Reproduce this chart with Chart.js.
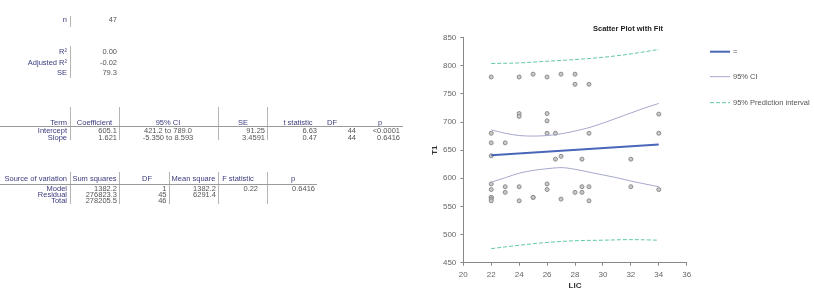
<!DOCTYPE html>
<html>
<head>
<meta charset="utf-8">
<script src="https://cdn.jsdelivr.net/npm/chart.js@4.4.1/dist/chart.umd.min.js"></script>
<style>
  html, body { margin: 0; padding: 0; background: #fff; }
  #wrap { position: relative; width: 814px; height: 292px; overflow: hidden; font-family: "Liberation Sans", Arial, sans-serif; }
  #grafico { position: absolute; left: 0; top: 0; }
  .t { position: absolute; font-size: 7.5px; line-height: 8px; white-space: nowrap; color: #555; }
  .lab { color: #3b3b7d; }
  .bar { position: absolute; width: 1px; background: #b5b5b5; }
  .hl { position: absolute; height: 1px; background: #9a9a9a; }
</style>
</head>
<body>
<div id="wrap">
  <canvas id="grafico" width="814" height="292"></canvas>
</div>
<script>
// Dados - pontos (LIC x T1)
const licPontos = [22, 24, 25, 26, 27, 28, 28, 29, 24, 24, 26, 26, 22, 26, 26.6, 29, 34, 34, 22, 23,
  22, 26.6, 27, 28.5, 32, 22, 22, 22, 22, 22, 22, 23, 23, 24, 24, 25, 25, 26, 26, 27, 28, 28.5, 28.5,
  29, 29, 32, 34];
const t1Pontos = [780, 780, 785, 780, 785, 785, 767, 767, 715, 710, 715, 702, 680, 680, 680, 680, 680, 714, 663, 663,
  640, 634, 639, 634, 634, 590, 580, 566, 566, 563, 560, 585, 575, 585, 560, 566, 566, 590, 580, 563, 575, 585, 575,
  585, 560, 585, 580];

// Reta ajustada
const ajusteX = [22, 34];
const ajusteY = [640.8, 660.2];

// Intervalo de confiança 95%
const icX = [22, 23, 24, 25, 26, 27, 28, 29, 30, 31, 32, 33, 34];
const icSup = [686, 680, 676, 675, 676, 679, 684, 690, 698, 707, 716, 725, 733];
const icInf = [593, 601, 609, 614, 617, 619, 616, 611, 606, 601, 595, 590, 585];

// Intervalo de predição 95%
const ipX = [22, 24, 26, 28, 30, 32, 34];
const ipSup = [804, 805, 808, 811, 815, 821, 829];
const ipInf = [475, 481, 486, 489, 490, 491, 490];

const legendas = ['=', '95% CI', '95% Prediction interval'];

// Tabelas
const resumoRotulos = [['n', 20], ['R²', 52], ['Adjusted R²', 62.5], ['SE', 72.7]];
const resumoValores = ['47', '0.00', '-0.02', '79.3'];

const coefCabecalho = ['Term', 'Coefficient', '95% CI', 'SE', 't statistic', 'DF', 'p'];
const coefLinhas = [
  ['Intercept', '605.1', '421.2 to 789.0', '91.25', '6.63', '44', '<0.0001'],
  ['Slope', '1.621', '-5.350 to 8.593', '3.4591', '0.47', '44', '0.6416']
];
const anovaCabecalho = ['Source of variation', 'Sum squares', 'DF', 'Mean square', 'F statistic', 'p'];
const anovaLinhas = [
  ['Model', '1382.2', '1', '1382.2', '0.22', '0.6416'],
  ['Residual', '276823.3', '45', '6291.4', '', ''],
  ['Total', '278205.5', '46', '', '', '']
];

// Helpers para o texto
const wrap = document.getElementById('wrap');
function texto(str, x, y, alinh, cls) {
  const d = document.createElement('div');
  d.className = 't' + (cls ? ' ' + cls : '');
  d.textContent = str;
  d.style.left = x + 'px';
  d.style.top = y + 'px';
  const tx = alinh === 'right' ? '-100%' : (alinh === 'center' ? '-50%' : '0');
  d.style.transform = 'translate(' + tx + ',-50%)';
  wrap.appendChild(d);
}
function barra(x, y1, y2) {
  const d = document.createElement('div');
  d.className = 'bar';
  d.style.left = x + 'px'; d.style.top = y1 + 'px'; d.style.height = (y2 - y1) + 'px';
  wrap.appendChild(d);
}
function linhaH(x1, x2, y) {
  const d = document.createElement('div');
  d.className = 'hl';
  d.style.left = x1 + 'px'; d.style.top = y + 'px'; d.style.width = (x2 - x1) + 'px';
  wrap.appendChild(d);
}

// Resumo
resumoRotulos.forEach((r, i) => {
  texto(r[0], 67, r[1], 'right', 'lab');
  texto(resumoValores[i], 117, r[1], 'right');
});
barra(70, 16, 27);
barra(70, 46, 78);

// Tabela de coeficientes
const coefCab = [[67, 'right'], [94.5, 'center'], [168, 'center'], [243, 'center'], [298, 'center'], [332, 'center'], [380, 'center']];
const coefVal = [[67, 'right'], [117, 'right'], [168, 'center'], [265, 'right'], [317, 'right'], [356, 'right'], [400, 'right']];
coefCabecalho.forEach((h, i) => texto(h, coefCab[i][0], 122.5, coefCab[i][1], 'lab'));
coefLinhas.forEach((linha, j) => {
  linha.forEach((v, i) => texto(v, coefVal[i][0], 131.3 + j * 6.5, coefVal[i][1], i === 0 ? 'lab' : ''));
});
[70, 119, 218, 267].forEach(x => barra(x, 107, 140));
linhaH(0, 403, 125.5);

// Tabela ANOVA
const anovaCab = [[67, 'right'], [94.5, 'center'], [147, 'center'], [193.5, 'center'], [238, 'center'], [293, 'center']];
const anovaVal = [[67, 'right'], [117, 'right'], [166.5, 'right'], [216, 'right'], [258, 'right'], [315, 'right']];
anovaCabecalho.forEach((h, i) => texto(h, anovaCab[i][0], 179, anovaCab[i][1], 'lab'));
anovaLinhas.forEach((linha, j) => {
  linha.forEach((v, i) => { if (v) texto(v, anovaVal[i][0], 189 + j * 6, anovaVal[i][1], i === 0 ? 'lab' : ''); });
});
[70, 119, 169, 218, 267].forEach(x => barra(x, 172, 204));
linhaH(0, 317, 183.5);

function pares(xs, ys) { return xs.map((x, i) => ({ x: x, y: ys[i] })); }

// Título e legenda desenhados no canvas
const extras = {
  id: 'extras',
  afterDraw(chart) {
    const ctx = chart.ctx;
    ctx.save();
    ctx.font = 'bold 7.5px "Liberation Sans", Arial, sans-serif';
    ctx.fillStyle = '#222';
    ctx.textAlign = 'center';
    ctx.textBaseline = 'middle';
    ctx.fillText('Scatter Plot with Fit', 628, 29);
    const itens = [0, 1, 3];
    const ys = [51.7, 76.7, 102.7];
    ctx.font = '7.5px "Liberation Sans", Arial, sans-serif';
    itens.forEach((di, k) => {
      const ds = chart.data.datasets[di];
      ctx.strokeStyle = ds.borderColor;
      ctx.lineWidth = ds.borderWidth;
      ctx.setLineDash(ds.borderDash || []);
      ctx.beginPath();
      ctx.moveTo(710, ys[k]);
      ctx.lineTo(730, ys[k]);
      ctx.stroke();
      ctx.setLineDash([]);
      ctx.fillStyle = '#555';
      ctx.textAlign = 'left';
      ctx.fillText(legendas[k], 733, ys[k]);
    });
    ctx.restore();
  }
};

const linhaBase = { showLine: true, pointRadius: 0, fill: false };

window.onload = function() {
  const canvas = document.getElementById('grafico');
  new Chart(canvas, {
    type: 'scatter',
    data: {
      datasets: [
        Object.assign({ data: pares(ajusteX, ajusteY), borderColor: '#4a66b8', borderWidth: 2 }, linhaBase),
        Object.assign({ data: pares(icX, icSup), borderColor: '#a6a8cc', borderWidth: 1, cubicInterpolationMode: 'monotone' }, linhaBase),
        Object.assign({ data: pares(icX, icInf), borderColor: '#a6a8cc', borderWidth: 1, cubicInterpolationMode: 'monotone' }, linhaBase),
        Object.assign({ data: pares(ipX, ipSup), borderColor: '#62c8a5', borderWidth: 1, borderDash: [4, 2], cubicInterpolationMode: 'monotone' }, linhaBase),
        Object.assign({ data: pares(ipX, ipInf), borderColor: '#62c8a5', borderWidth: 1, borderDash: [4, 2], cubicInterpolationMode: 'monotone' }, linhaBase),
        {
          data: pares(licPontos, t1Pontos),
          pointRadius: 2,
          borderWidth: 1,
          borderColor: '#8a8a8a',
          backgroundColor: '#cacaca'
        }
      ]
    },
    options: {
      responsive: false,
      animation: false,
      devicePixelRatio: 1,
      layout: { padding: { left: 426.3, right: 127.3, top: 37.6, bottom: 0 } },
      plugins: { legend: { display: false }, title: { display: false }, tooltip: { enabled: false } },
      scales: {
        x: {
          type: 'linear', min: 20, max: 36,
          afterFit: s => { s.height = 29.3; },
          ticks: { stepSize: 2, color: '#666', padding: 4, font: { size: 8, family: '"Liberation Sans", Arial, sans-serif' } },
          grid: { drawOnChartArea: false, tickLength: 3, color: '#888' },
          border: { color: '#888' },
          title: { display: true, text: 'LIC', color: '#333', padding: { top: 0, bottom: 1 }, font: { size: 8, weight: 'bold', family: '"Liberation Sans", Arial, sans-serif' } }
        },
        y: {
          type: 'linear', min: 450, max: 850,
          afterFit: s => { s.width = 37; },
          ticks: { stepSize: 50, color: '#666', padding: 4, font: { size: 8, family: '"Liberation Sans", Arial, sans-serif' } },
          grid: { drawOnChartArea: false, tickLength: 3, color: '#888' },
          border: { color: '#888' },
          title: { display: true, text: 'T1', color: '#333', padding: { top: 4, bottom: 4 }, font: { size: 8, weight: 'bold', family: '"Liberation Sans", Arial, sans-serif' } }
        }
      }
    },
    plugins: [extras]
  });
};
</script>
</body>
</html>
